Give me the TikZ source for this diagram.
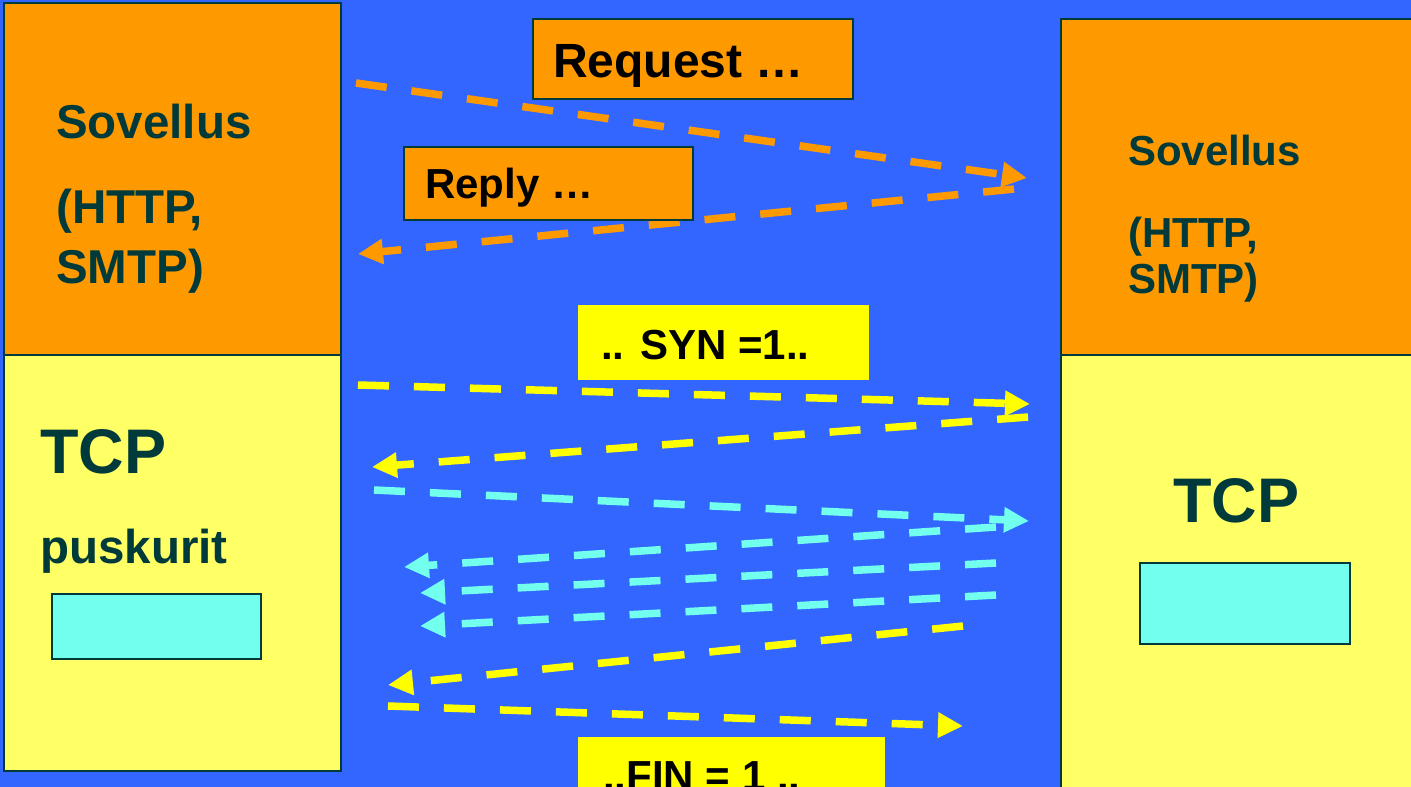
\documentclass[tikz,border=0pt]{standalone}
\usepackage{fontspec}
\setmainfont{Liberation Sans}
\usetikzlibrary{arrows.meta}
\definecolor{bgblue}{HTML}{3366FF}
\definecolor{apporange}{HTML}{FF9900}
\definecolor{tcpyellow}{HTML}{FFFF66}
\definecolor{msgyellow}{HTML}{FFFF00}
\definecolor{bufcyan}{HTML}{72FFEE}
\definecolor{darkteal}{HTML}{003A3A}
\tikzset{
  layer/.style={draw=darkteal, line width=2pt, anchor=north west, inner sep=0pt},
  msgbox/.style={anchor=north west, inner sep=0pt},
  lbl/.style={anchor=base west, inner sep=0pt, text=darkteal, font=\bfseries\fontsize{47.5}{50}\selectfont},
  msglbl/.style={anchor=base west, inner sep=0pt, font=\bfseries\fontsize{42}{46}\selectfont},
  seg/.style={line width=7.5pt, dash pattern=on 31pt off 25pt,
    -{Triangle[length=25pt,width=24pt]}}
}
\begin{document}
\begin{tikzpicture}[x=1pt,y=-1pt]
\clip (0,0) rectangle (1411,787);
\fill[bgblue] (0,0) rectangle (1411,787);
% left host
\node[layer, fill=apporange, minimum width=337pt, minimum height=352pt] (appL) at (3,2) {};
\node[layer, fill=tcpyellow, minimum width=337pt, minimum height=416pt] (tcpL) at (3,354) {};
\node[layer, fill=bufcyan, minimum width=209pt, minimum height=65pt] (bufL) at (51,593) {};
\node[lbl] (sovL) at (56,138) {Sovellus};
\node[lbl] (httpL) at (56,223) {(HTTP,};
\node[lbl] (smtpL) at (56,283) {SMTP)};
\node[lbl, font=\bfseries\fontsize{63}{66}\selectfont] (tcpLt) at (40,473) {TCP};
\node[lbl] (pusL) at (40,563) {puskurit};
% right host
\node[layer, fill=apporange, minimum width=360pt, minimum height=336pt] (appR) at (1060,18) {};
\node[layer, fill=tcpyellow, minimum width=360pt, minimum height=440pt] (tcpR) at (1060,354) {};
\node[layer, fill=bufcyan, minimum width=210pt, minimum height=81pt] (bufR) at (1139,562) {};
\node[lbl, font=\bfseries\fontsize{42}{46}\selectfont] (sovR) at (1128,165) {Sovellus};
\node[lbl, font=\bfseries\fontsize{42}{46}\selectfont] (httpR) at (1128,247) {(HTTP,};
\node[lbl, font=\bfseries\fontsize{42}{46}\selectfont] (smtpR) at (1128,293) {SMTP)};
\node[lbl, font=\bfseries\fontsize{63}{66}\selectfont] (tcpRt) at (1173,522) {TCP};
% arrow ends
\coordinate (o1a) at (356,83);   \coordinate (o1b) at (1027,178);
\coordinate (o2a) at (1014,189); \coordinate (o2b) at (358,254);
\coordinate (y1a) at (358,385);  \coordinate (y1b) at (1030,404);
\coordinate (y2a) at (1028,417); \coordinate (y2b) at (372,467);
\coordinate (c1a) at (374,490);  \coordinate (c1b) at (1029,521);
\coordinate (c2a) at (996,527);  \coordinate (c2b) at (404,567);
\coordinate (c3a) at (996,563);  \coordinate (c3b) at (420,593);
\coordinate (c4a) at (996,595);  \coordinate (c4b) at (420,626);
\coordinate (y3a) at (963,626);  \coordinate (y3b) at (388,685);
\coordinate (y4a) at (388,706);  \coordinate (y4b) at (963,726);
% arrows
\draw[seg, apporange] (o1a) -- (o1b);
\draw[seg, apporange] (o2a) -- (o2b);
\draw[seg, msgyellow] (y1a) -- (y1b);
\draw[seg, msgyellow] (y2a) -- (y2b);
\draw[seg, bufcyan] (c1a) -- (c1b);
\draw[seg, bufcyan] (c2a) -- (c2b);
\draw[seg, bufcyan] (c3a) -- (c3b);
\draw[seg, bufcyan] (c4a) -- (c4b);
\draw[seg, msgyellow] (y3a) -- (y3b);
\draw[seg, msgyellow] (y4a) -- (y4b);
% messages
\node[msgbox, draw=darkteal, line width=2pt, fill=apporange, minimum width=320pt, minimum height=80pt] (reqbox) at (532,18) {};
\node[msglbl, font=\bfseries\fontsize{48}{50}\selectfont] (req) at (553,77) {Request …};
\node[msgbox, draw=darkteal, line width=2pt, fill=apporange, minimum width=289pt, minimum height=73pt] (repbox) at (403,146) {};
\node[msglbl] (rep) at (425,198) {Reply …};
\node[msgbox, fill=msgyellow, minimum width=291pt, minimum height=75pt] (synbox) at (578,305) {};
\node[msglbl] (syn) at (601,359) {.. SYN =1..};
\node[msgbox, fill=msgyellow, minimum width=307pt, minimum height=60pt] (finbox) at (578,737) {};
\node[msglbl] (fin) at (603,790) {..FIN = 1 ..};
\end{tikzpicture}
\end{document}
